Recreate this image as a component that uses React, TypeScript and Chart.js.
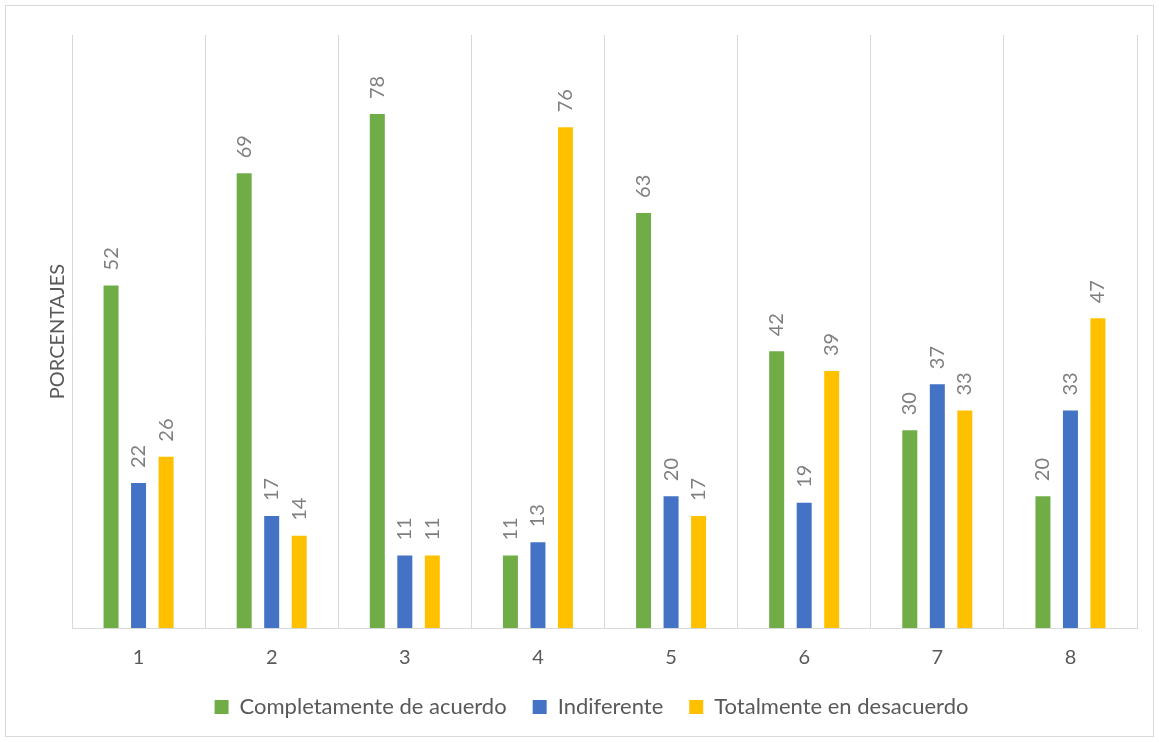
import React, { useEffect, useRef } from "react";
import { Chart, registerables } from "chart.js";

Chart.register(...registerables);

const categories = ["1", "2", "3", "4", "5", "6", "7", "8"];
const completamente = [52, 69, 78, 11, 63, 42, 30, 20];
const indiferente = [22, 17, 11, 13, 20, 19, 37, 33];
const totalmente = [26, 14, 11, 76, 17, 39, 33, 47];
const seriesNames = ["Completamente de acuerdo", "Indiferente", "Totalmente en desacuerdo"];
const yAxisTitle = "PORCENTAJES";

const FONT = "Lato, Carlito, 'Liberation Sans', sans-serif";

const frameAndLabels = {
  id: "frameAndLabels",
  beforeDraw(chart: any) {
    const { ctx } = chart;
    ctx.save();
    ctx.fillStyle = "#ffffff";
    ctx.fillRect(0, 0, chart.width, chart.height);
    ctx.strokeStyle = "#d9d9d9";
    ctx.lineWidth = 1;
    ctx.strokeRect(5.5, 5.5, chart.width - 11, chart.height - 11);
    ctx.restore();
  },
  afterDatasetsDraw(chart: any) {
    const { ctx } = chart;
    ctx.save();
    ctx.fillStyle = "#7f7f7f";
    ctx.font = `20px ${FONT}`;
    ctx.textAlign = "left";
    ctx.textBaseline = "middle";
    chart.data.datasets.forEach((ds: any, i: number) => {
      const meta = chart.getDatasetMeta(i);
      meta.data.forEach((el: any, j: number) => {
        ctx.save();
        ctx.translate(el.x, el.y - 15);
        ctx.rotate(-Math.PI / 2);
        ctx.fillText(String(ds.data[j]), 0, 0);
        ctx.restore();
      });
    });
    ctx.restore();
  },
};

export default function App() {
  const ref = useRef<HTMLCanvasElement>(null);
  useEffect(() => {
    document.body.style.margin = "0";
    const chart = new Chart(ref.current as HTMLCanvasElement, {
      type: "bar",
      data: {
        labels: categories,
        datasets: [
          { label: seriesNames[0], data: completamente, backgroundColor: "#70AD47" },
          { label: seriesNames[1], data: indiferente, backgroundColor: "#4472C4" },
          { label: seriesNames[2], data: totalmente, backgroundColor: "#FFC000" },
        ],
      },
      options: {
        responsive: false,
        animation: false,
        datasets: { bar: { categoryPercentage: 0.62, barPercentage: 0.545 } },
        layout: { padding: { left: 46, right: 22, top: 35, bottom: 14 } },
        plugins: {
          legend: {
            position: "bottom",
            labels: {
              boxWidth: 14,
              boxHeight: 14,
              padding: 26,
              color: "#595959",
              font: { size: 22, family: FONT },
            },
          },
          tooltip: { enabled: false },
        },
        scales: {
          x: {
            grid: { color: "#d9d9d9", drawTicks: false, offset: true },
            border: { color: "#d9d9d9" },
            ticks: {
              color: "#595959",
              font: { size: 20, family: FONT },
              padding: 18,
              maxRotation: 0,
              minRotation: 0,
            },
            afterFit(scale: any) {
              scale.height = 42;
            },
          },
          y: {
            min: 0,
            max: 90,
            grid: { display: false },
            border: { display: false },
            ticks: { display: false },
            title: {
              display: true,
              text: yAxisTitle,
              color: "#595959",
              font: { size: 20, family: FONT },
              padding: { top: 0, bottom: 0 },
            },
            afterFit(scale: any) {
              scale.width = 26;
            },
          },
        },
      },
      plugins: [frameAndLabels],
    } as any);
    return () => chart.destroy();
  }, []);
  return (
    <div style={{ width: 1159, height: 742 }}>
      <canvas ref={ref} width={1159} height={742} />
    </div>
  );
}
